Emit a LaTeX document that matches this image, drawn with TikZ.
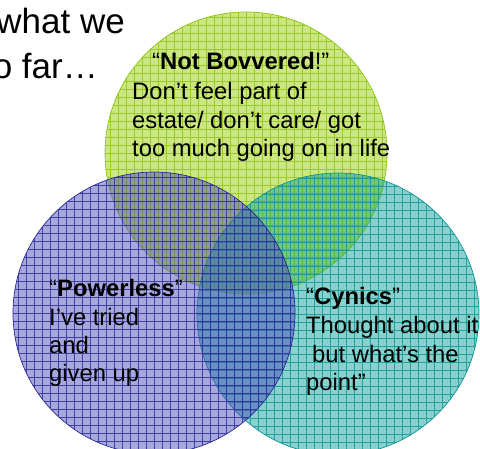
\documentclass[tikz,border=0pt]{standalone}
\usepackage{fontspec}
\setmainfont{Liberation Sans}
\usepackage{tikz}

\definecolor{bovgreen}{RGB}{155,205,10}
\definecolor{bovgrid}{RGB}{140,195,20}
\definecolor{cyteal}{RGB}{15,165,155}
\definecolor{cygrid}{RGB}{10,150,150}
\definecolor{powblue}{RGB}{80,80,190}
\definecolor{powgrid}{RGB}{40,40,150}

\tikzset{
  setring/.style 2 args={circle, minimum size=282pt, inner sep=0pt, outer sep=0pt,
    draw=#2, line width=0.7pt, fill=#1, fill opacity=0.5,
    path picture={\draw[#2, line width=0.6pt, draw opacity=0.8, step=8pt]
      (path picture bounding box.south west) grid (path picture bounding box.north east);}},
  blurb/.style={anchor=base west, inner sep=0pt, font=\fontsize{23.8}{29}\selectfont},
  heading/.style={anchor=base east, inner sep=0pt, font=\fontsize{35}{45}\selectfont},
}

\begin{document}
\begin{tikzpicture}[x=1pt, y=-1pt]
\useasboundingbox (0,0) rectangle (480,448);
\clip (0,0) rectangle (480,448);

% the three rings
\node[setring={bovgreen}{bovgrid}] (bovvered) at (246,153) {};
\node[setring={cyteal}{cygrid}] (cynics) at (338,314) {};
\node[setring={powblue}{powgrid}] (powerless) at (154,313) {};

\node[heading] (head1) at (125,33) {what we};
\node[heading] (head2) at (98,78) {so far…};

\node[blurb] (bov0) at (152,69) {“\textbf{Not Bovvered}!”};
\node[blurb] (bov1) at (132,99) {Don’t feel part of};
\node[blurb] (bov2) at (132,128) {estate/ don’t care/ got};
\node[blurb] (bov3) at (132,156) {too much going on in life};

\node[blurb] (pow0) at (49,296) {“\textbf{Powerless}”};
\node[blurb] (pow1) at (49,325) {I’ve tried};
\node[blurb] (pow2) at (49,353) {and};
\node[blurb] (pow3) at (49,381) {given up};

\node[blurb] (cyn0) at (306,304) {“\textbf{Cynics}”};
\node[blurb] (cyn1) at (306,333) {Thought about it};
\node[blurb] (cyn2) at (312,362) {but what’s the};
\node[blurb] (cyn3) at (306,390) {point”};
\end{tikzpicture}
\end{document}
